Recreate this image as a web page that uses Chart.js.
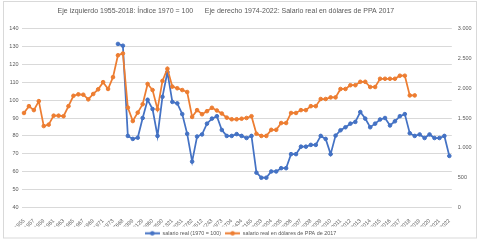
<!DOCTYPE html>
<html><head><meta charset="utf-8">
<script src="https://cdn.jsdelivr.net/npm/chart.js@4"></script>
<style>html,body{margin:0;padding:0;background:#fff;}#wrap{width:481px;height:242px;position:relative;}</style>
</head><body><div id="wrap"><canvas id="c" width="481" height="242"></canvas></div>
<script>
const titleText = 'Eje izquierdo 1955-2018: Índice 1970 = 100      Eje derecho 1974-2022: Salario real en dólares de PPA 2017';
const legendLabels = ['salario real (1970 = 100)', 'salario real en dólares de PPA de 2017'];

const categories = [
  '1955','1956','1957','1958','1959','1960','1961','1962','1963','1964',
  '1965','1966','1967','1968','1969','1970','1971','1972','1973','1974',
  '27668','28034','28399','28764','29129','29495','29860','30225','30590','30956',
  '31321','31686','32051','32417','32782','33147','33512','33878','34243','34608',
  '34973','35339','35704','36069','36434','36800','37165','37530',
  '1.2003','2.2003','1.2004','2.2004','1.2005','2.2005','1.2006','2.2006','1.2007','2.2007',
  '1.2008','2.2008','1.2009','2.2009','1.2010','2.2010','1.2011','2.2011','1.2012','2.2012',
  '1.2013','2.2013','1.2014','2.2014','1.2015','2.2015','1.2016','2.2016','1.2017','2.2017',
  '1.2018','2.2018','1.2019','2.2019','1.2020','2.2020','1.2021','2.2021','1.2022'
];

// orange series, left axis (index)
const indexSeries = [
  92.8, 96.6, 94.4, 99.4, 85.5, 86.3, 91.3, 91.3, 91.0, 96.6,
  102.4, 103.2, 103.0, 100.4, 103.4, 106.0, 110.0, 106.2, 112.8, 125.0,
  126.0, 95.8, 88.3, 93.0, 97.7, 109.0, 105.6, 94.9, 110.7, 117.5,
  107.5, 106.6, 105.6, 104.5, 90.6, 94.4, 92.1, 93.8, 95.7, 94.2,
  92.5, 90.2, 89.3, 89.3, 89.6, 90.0, 91.0, 81.2,
  80.0, 80.0, 83.4, 83.4, 87.2, 87.2, 92.8, 92.8, 94.4, 94.4,
  96.6, 96.6, 100.6, 100.6, 101.5, 101.5, 106.2, 106.2, 108.3, 108.3,
  110.2, 110.2, 107.3, 107.3, 111.9, 111.9, 111.9, 111.9, 113.6, 113.6,
  102.6, 102.6, null, null, null, null, null, null, null
];

// blue series, right axis (dollars)
const salarySeries = [
  null, null, null, null, null, null, null, null, null, null,
  null, null, null, null, null, null, null, null, null, 2740,
  2710, 1200, 1150, 1170, 1500, 1805, 1650, 1200, 1855, 2270,
  1770, 1745, 1565, 1235, 770, 1190, 1225, 1405, 1490, 1530,
  1300, 1200, 1200, 1230, 1200, 1165, 1200, 585,
  500, 500, 605, 605, 660, 660, 895, 895, 1020, 1020,
  1050, 1050, 1200, 1150, 895, 1205, 1295, 1345, 1405, 1435,
  1600, 1490, 1345, 1405, 1475, 1500, 1375, 1445, 1530, 1565,
  1245, 1200, 1225, 1165, 1225, 1165, 1165, 1200, 865
];

const leftTicks = [40, 50, 60, 70, 80, 90, 100, 110, 120, 130, 140];
const rightTicks = [0, 500, 1000, 1500, 2000, 2500, 3000];
const rightTickLabels = ['0', '500', '1.000', '1.500', '2.000', '2.500', '3.000'];

const BLUE = '#4472C4';
const ORANGE = '#ED7D31';
const TXT = '#595959';
const FONT = "'Liberation Sans', Arial, sans-serif";

function legendIcon(color) {
  const c = document.createElement('canvas');
  c.width = 15; c.height = 7;
  const x = c.getContext('2d');
  x.strokeStyle = color; x.lineWidth = 2;
  x.beginPath(); x.moveTo(0, 3.5); x.lineTo(15, 3.5); x.stroke();
  x.fillStyle = color;
  x.beginPath(); x.arc(7.5, 3.5, 2.3, 0, Math.PI * 2); x.fill();
  return c;
}

const frame = {
  id: 'frame',
  beforeDraw(chart) {
    const ctx = chart.ctx;
    ctx.save();
    ctx.fillStyle = '#fff';
    ctx.fillRect(0, 0, chart.width, chart.height);
    ctx.strokeStyle = '#D9D9D9';
    ctx.lineWidth = 1;
    ctx.strokeRect(3.5, 1.5, 473, 236.5);
    ctx.restore();
  }
};

new Chart(document.getElementById('c'), {
  type: 'line',
  data: {
    labels: categories,
    datasets: [
      {
        label: legendLabels[0], data: salarySeries, yAxisID: 'y1',
        borderColor: BLUE, backgroundColor: BLUE, borderWidth: 1.75,
        pointRadius: 1.8, pointBorderWidth: 1, pointBackgroundColor: BLUE, pointBorderColor: BLUE,
        tension: 0, spanGaps: false, order: 1
      },
      {
        label: legendLabels[1], data: indexSeries, yAxisID: 'y',
        borderColor: ORANGE, backgroundColor: ORANGE, borderWidth: 1.75,
        pointRadius: 1.8, pointBorderWidth: 1, pointBackgroundColor: ORANGE, pointBorderColor: ORANGE,
        tension: 0, spanGaps: false, order: 0
      }
    ]
  },
  options: {
    responsive: false,
    devicePixelRatio: 1,
    animation: false,
    layout: { padding: { left: 0, right: 0, top: 0, bottom: -4 } },
    plugins: {
      title: {
        display: true, text: titleText + '\u00A0'.repeat(15), color: TXT,
        font: { family: FONT, size: 7, weight: 'normal' },
        padding: { top: 7, bottom: 13 }
      },
      legend: {
        position: 'bottom',
        labels: {
          color: TXT, font: { family: FONT, size: 5.4 },
          usePointStyle: true, pointStyleWidth: 15, boxHeight: 7, padding: 4,
          generateLabels(chart) {
            return chart.data.datasets.map((ds, i) => ({
              text: ds.label, fontColor: TXT, pointStyle: legendIcon(ds.borderColor),
              datasetIndex: i, hidden: false, lineWidth: 0, strokeStyle: 'transparent', fillStyle: 'transparent'
            }));
          }
        }
      },
      tooltip: { enabled: false }
    },
    scales: {
      x: {
        type: 'category',
        offset: true,
        grid: { display: false },
        border: { display: false },
        ticks: {
          autoSkip: false, minRotation: 45, maxRotation: 45, padding: 2,
          color: TXT, font: { family: FONT, size: 5.5 },
          callback(v, i) { return i % 2 === 0 ? categories[i] : ''; }
        },
        afterFit(s) { s.height = 19; }
      },
      y: {
        position: 'left', min: 40, max: 140,
        afterBuildTicks(s) { s.ticks = leftTicks.map(v => ({ value: v })); },
        grid: { color: '#D9D9D9', lineWidth: 1, drawTicks: false },
        border: { display: false },
        ticks: { color: TXT, font: { family: FONT, size: 5.5 }, padding: 3 },
        afterFit(s) { s.width = 21.5; }
      },
      y1: {
        position: 'right', min: 0, max: 3000,
        afterBuildTicks(s) { s.ticks = rightTicks.map(v => ({ value: v })); },
        grid: { display: false, drawTicks: false },
        border: { display: false },
        ticks: {
          color: TXT, font: { family: FONT, size: 5.5 }, padding: 6,
          callback(v) { const k = rightTicks.indexOf(v); return k >= 0 ? rightTickLabels[k] : ''; }
        },
        afterFit(s) { s.width = 29.2; }
      }
    }
  },
  plugins: [frame]
});
</script></body></html>
